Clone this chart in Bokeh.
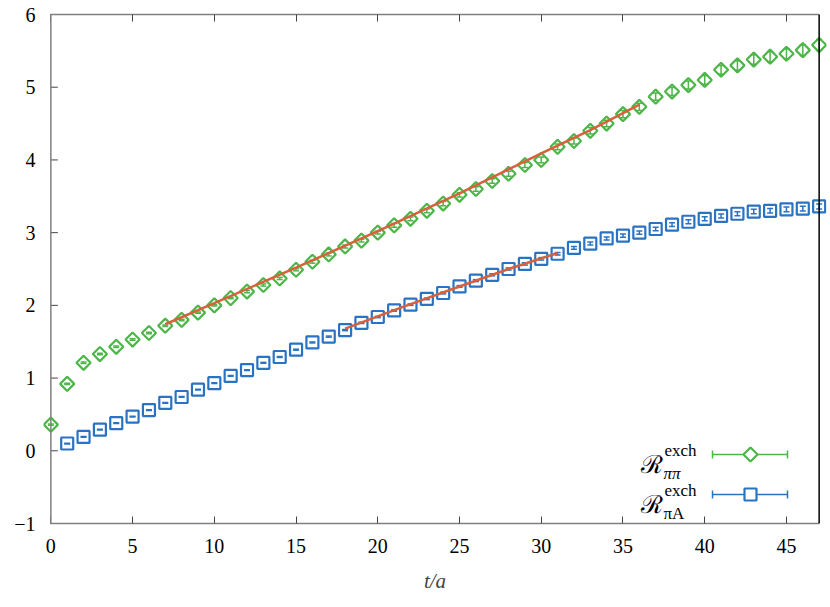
import numpy as np
from bokeh.plotting import figure
from bokeh.models import (Range1d, LinearAxis, Span, Whisker, TeeHead, ColumnDataSource,
                          Label, FixedTicker)
from bokeh.embed import file_html
from bokeh.resources import INLINE

# ---------------- data ----------------
t_pipi = list(range(0, 48))
R_pipi = [0.36, 0.92, 1.21, 1.33, 1.43, 1.53, 1.62, 1.72, 1.80, 1.90,
          2.00, 2.10, 2.19, 2.28, 2.37, 2.49, 2.60, 2.70, 2.81, 2.89,
          3.00, 3.10, 3.19, 3.30, 3.40, 3.52, 3.60, 3.71, 3.81, 3.93,
          4.00, 4.18, 4.26, 4.40, 4.50, 4.63, 4.73, 4.87, 4.94, 5.03,
          5.10, 5.24, 5.30, 5.38, 5.42, 5.46, 5.51, 5.58]
E_pipi = [0.01, 0.01, 0.01, 0.01, 0.01, 0.01, 0.01, 0.01, 0.01, 0.01,
          0.01, 0.01, 0.015, 0.015, 0.015, 0.015, 0.02, 0.02, 0.02, 0.02,
          0.02, 0.025, 0.025, 0.025, 0.03, 0.03, 0.03, 0.03, 0.035, 0.035,
          0.04, 0.04, 0.04, 0.045, 0.045, 0.05, 0.05, 0.05, 0.055, 0.055,
          0.06, 0.06, 0.065, 0.065, 0.07, 0.07, 0.075, 0.075]

t_piA = list(range(1, 48))
R_piA = [0.10, 0.19, 0.29, 0.38, 0.47, 0.56, 0.66, 0.74, 0.84,
         0.93, 1.03, 1.11, 1.21, 1.29, 1.39, 1.49, 1.57, 1.66, 1.76,
         1.84, 1.93, 2.01, 2.09, 2.17, 2.26, 2.34, 2.42, 2.50, 2.57,
         2.64, 2.71, 2.79, 2.85, 2.92, 2.96, 3.00, 3.05, 3.11, 3.15,
         3.19, 3.23, 3.26, 3.29, 3.30, 3.32, 3.33, 3.36]
E_piA = [0.005, 0.005, 0.005, 0.005, 0.005, 0.005, 0.005, 0.005, 0.005,
         0.005, 0.005, 0.006, 0.006, 0.006, 0.007, 0.007, 0.008, 0.008, 0.009,
         0.009, 0.01, 0.01, 0.011, 0.012, 0.012, 0.013, 0.014, 0.015, 0.016,
         0.017, 0.018, 0.019, 0.02, 0.021, 0.022, 0.023, 0.024, 0.025, 0.026,
         0.027, 0.028, 0.029, 0.03, 0.031, 0.032, 0.033, 0.034]

# fit curves
fit_pipi_t = [7, 10, 15, 20, 25, 30, 33, 36]
fit_pipi_y = [1.74, 2.03, 2.52, 3.02, 3.54, 4.09, 4.41, 4.76]
fit_piA_t = [18, 21.5, 25, 28, 31]
fit_piA_y = [1.68, 1.975, 2.26, 2.50, 2.72]

x_ticks = [0, 5, 10, 15, 20, 25, 30, 35, 40, 45]
y_ticks = [-1, 0, 1, 2, 3, 4, 5, 6]

GREEN = "#4cb648"
BLUE = "#2a73c2"
ORANGE = "#d8603a"
AXGRAY = "#808080"
TICKC = "#444444"
FONT = "Liberation Serif"

X0, X1 = -0.45, 47.45
Y0, Y1 = -1.0, 6.0
W, H = 830, 607
BL, BR, BT, BB = 43, 4, 14, 84
PX_PER_X = (W - BL - BR) / (X1 - X0)

p = figure(width=W, height=H, output_backend="svg", toolbar_location=None,
           x_range=Range1d(X0, X1), y_range=Range1d(Y0, Y1),
           min_border_left=BL, min_border_right=BR, min_border_top=BT, min_border_bottom=BB,
           x_axis_label="t/a")
p.outline_line_color = None
p.grid.visible = False
p.background_fill_color = "white"
p.border_fill_color = "white"

# bottom axis
xa = p.xaxis[0]
xa.ticker = FixedTicker(ticks=x_ticks)
xa.bounds = (0, 47)
xa.axis_line_color = AXGRAY
xa.axis_line_width = 1.5
xa.major_tick_in = 7
xa.major_tick_out = 0
xa.major_tick_line_color = TICKC
xa.minor_tick_line_color = None
xa.major_label_text_font = FONT
xa.major_label_text_font_size = "20px"
xa.major_label_text_color = "black"
xa.major_label_standoff = 15
xa.axis_label_text_font = FONT
xa.axis_label_text_font_style = "italic"
xa.axis_label_text_font_size = "21px"
xa.axis_label_standoff = 13

# left axis: labels only (line + ticks drawn at t=0 below)
ya = p.yaxis[0]
ya.ticker = FixedTicker(ticks=y_ticks)
ya.axis_line_color = None
ya.major_tick_line_color = None
ya.minor_tick_line_color = None
ya.major_tick_in = 0
ya.major_tick_out = 0
ya.major_label_text_font = FONT
ya.major_label_text_font_size = "20px"
ya.major_label_text_color = "black"
ya.major_label_standoff = 8
ya.major_label_overrides = {-1: "\u22121"}

p.add_layout(Span(location=0, dimension="height", line_color=AXGRAY, line_width=1.5))
tick_len = 7 / PX_PER_X
p.segment(x0=[0] * len(y_ticks), y0=y_ticks, x1=[tick_len] * len(y_ticks), y1=y_ticks,
          line_color=TICKC, line_width=1)

# top axis (mirror ticks)
ta = LinearAxis(ticker=FixedTicker(ticks=x_ticks), bounds=(0, 47))
ta.axis_line_color = AXGRAY
ta.axis_line_width = 1.5
ta.major_tick_in = 7
ta.major_tick_out = 0
ta.major_tick_line_color = TICKC
ta.minor_tick_line_color = None
ta.major_label_text_font_size = "0px"
ta.major_label_text_color = None
ta.major_label_standoff = 0
p.add_layout(ta, "above")

# right frame line
p.add_layout(Span(location=47, dimension="height", line_color="black", line_width=1.5))

# data with error bars
src_pp = ColumnDataSource(dict(t=t_pipi, y=R_pipi,
                               lo=[a - b for a, b in zip(R_pipi, E_pipi)],
                               hi=[a + b for a, b in zip(R_pipi, E_pipi)]))
src_pa = ColumnDataSource(dict(t=t_piA, y=R_piA,
                               lo=[a - b for a, b in zip(R_piA, E_piA)],
                               hi=[a + b for a, b in zip(R_piA, E_piA)]))

for src, col in ((src_pp, GREEN), (src_pa, BLUE)):
    w = Whisker(base="t", lower="lo", upper="hi", source=src, dimension="height",
                line_color=col, line_width=1.5,
                upper_head=TeeHead(size=6, line_color=col, line_width=1.5),
                lower_head=TeeHead(size=6, line_color=col, line_width=1.5))
    p.add_layout(w)

p.scatter("t", "y", source=src_pp, marker="square", angle=np.pi / 4, size=10,
          fill_color=None, line_color=GREEN, line_width=2.2)
p.scatter("t", "y", source=src_pa, marker="square", size=12,
          fill_color=None, line_color=BLUE, line_width=2.2)

# fit lines (drawn on top)
p.line(fit_pipi_t, fit_pipi_y, line_color=ORANGE, line_width=2.5)
p.line(fit_piA_t, fit_piA_y, line_color=ORANGE, line_width=2.5)

# ---------------- legend (drawn manually) ----------------
def px2x(px):
    return X0 + (px - BL) / PX_PER_X

PX_PER_Y = (H - BT - BB) / (Y1 - Y0)

def py2y(py):
    return Y1 - (py - BT) / PX_PER_Y

legend_rows = [("\u03c0\u03c0", GREEN, "diamond", 454),
               ("\u03c0A", BLUE, "square", 494)]
for sub, col, kind, py in legend_rows:
    yy = py2y(py)
    cap = 4 / PX_PER_Y
    p.segment(x0=[px2x(712)], y0=[yy], x1=[px2x(787)], y1=[yy], line_color=col, line_width=1.5)
    p.segment(x0=[px2x(712), px2x(787)], y0=[yy - cap] * 2,
              x1=[px2x(712), px2x(787)], y1=[yy + cap] * 2, line_color=col, line_width=1.5)
    if kind == "diamond":
        p.scatter([px2x(750)], [yy], marker="square", angle=np.pi / 4, size=10,
                  fill_color="white", line_color=col, line_width=2.2)
    else:
        p.scatter([px2x(750)], [yy], marker="square", size=12,
                  fill_color="white", line_color=col, line_width=2.2)
    p.add_layout(Label(x=px2x(662), y=py2y(py + 10), text="\u211b", text_font="DejaVu Serif",
                       text_font_size="25px", text_align="right", text_baseline="alphabetic",
                       text_color="black"))
    p.add_layout(Label(x=px2x(664), y=py2y(py - 4), text="exch", text_font=FONT,
                       text_font_size="17px", text_align="left", text_baseline="alphabetic",
                       text_color="black"))
    p.add_layout(Label(x=px2x(663), y=py2y(py + 19), text=sub, text_font=FONT,
                       text_font_size="17px",
                       text_font_style="italic" if sub == "\u03c0\u03c0" else "normal",
                       text_align="left", text_baseline="alphabetic", text_color="black"))

open("out.html", "w").write(file_html(p, INLINE))
